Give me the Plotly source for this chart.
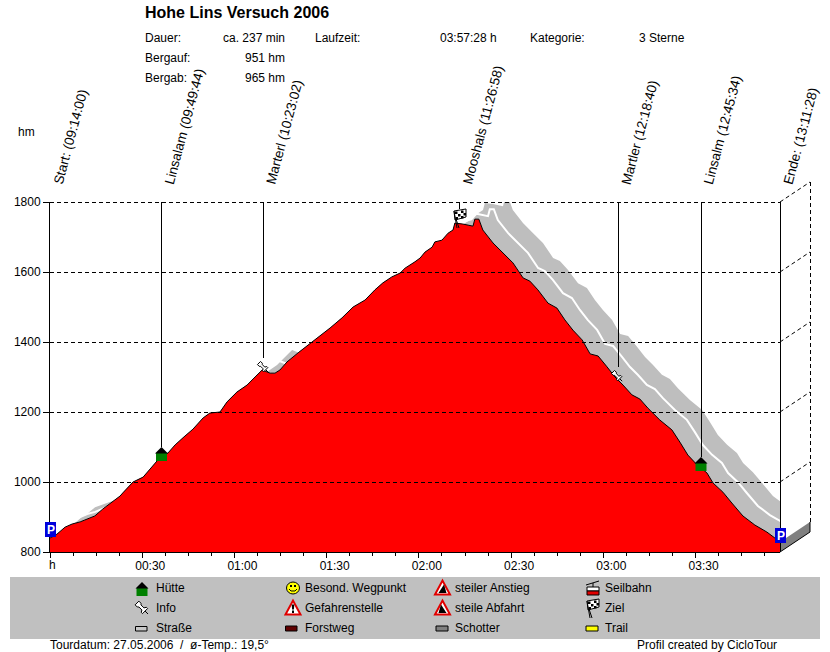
import math
import plotly.graph_objects as go

W, H = 830, 652
FONT = "Liberation Sans"

# Hoehenprofil: Zeit in Minuten, Hoehe in hm
minutes = [0, 2.0, 4.9, 7.2, 9.8, 12.4, 14.6, 17.2, 20.2, 22.8, 23.7, 27.0, 30.3, 33.2, 35.1, 38.4, 40.7,
           43.6, 46.5, 49.8, 52.0, 55.3, 57.6, 60.8, 64.1, 66.7, 69.0, 71.6, 73.2, 74.8, 77.1, 80.7, 86.2,
           91.1, 95.0, 98.6, 102.5, 105.7, 108.3, 111.2, 113.9, 115.5, 118.7, 120.4, 122.0, 124.3, 125.2,
           127.5, 129.5, 131.1, 131.7, 134.3, 137.6, 138.2, 139.5, 140.8, 144.1, 147.0, 150.6, 153.9, 156.1,
           158.7, 162.0, 164.9, 167.5, 170.1, 173.1, 175.7, 178.3, 181.2, 183.8, 186.4, 189.3, 191.9, 194.5,
           198.4, 202.3, 204.9, 207.5, 210.5, 213.7, 215.7, 218.9, 221.8, 225.4, 229.3, 233.2, 235.8, 237.47]
elevation = [840, 849, 871, 880, 886, 894, 903, 923, 943, 960, 969, 1000, 1014, 1043, 1063, 1083, 1106,
             1129, 1151, 1183, 1197, 1200, 1229, 1257, 1277, 1300, 1320, 1311, 1311, 1320, 1343, 1369, 1406,
             1440, 1469, 1500, 1520, 1549, 1569, 1586, 1597, 1611, 1629, 1640, 1657, 1671, 1686,
             1691, 1711, 1720, 1740, 1737, 1731, 1751, 1751, 1720, 1683, 1657, 1626, 1583, 1574,
             1549, 1511, 1497, 1463, 1434, 1406, 1366, 1360, 1329, 1300, 1277, 1249, 1237, 1211,
             1177, 1149, 1114, 1077, 1049, 1026, 997, 971, 940, 903, 877, 857, 840, 826]

# Wegpunkte
waypoint_names = ["Start: (09:14:00)", "Linsalam (09:49:44)", "Marterl (10:23:02)", "Mooshals (11:26:58)",
                  "Martler (12:18:40)", "Linsalm (12:45:34)", "Ende: (13:11:28)"]
waypoint_min = [0, 36.1, 69.03, 132.97, 184.67, 211.57, 237.47]
waypoint_end_y = [552, 447, 358, 209, 367, 457, 552]

y_ticks = [800, 1000, 1200, 1400, 1600, 1800]
x_ticks = [0, 30, 60, 90, 120, 150, 180, 210]
x_labels = ["", "00:30", "01:00", "01:30", "02:00", "02:30", "03:00", "03:30"]

header = [("Dauer:", 145, 38, "left"), ("ca. 237 min", 285, 38, "right"), ("Laufzeit:", 315, 38, "left"),
          ("03:57:28 h", 497, 38, "right"), ("Kategorie:", 530, 38, "left"), ("3 Sterne", 639, 38, "left"),
          ("Bergauf:", 145, 58, "left"), ("951 hm", 285, 58, "right"),
          ("Bergab:", 145, 78, "left"), ("965 hm", 285, 78, "right")]
legend_labels = [("Hütte", 156, 588), ("Info", 156, 608), ("Straße", 156, 628),
                 ("Besond. Wegpunkt", 305, 588), ("Gefahrenstelle", 305, 608), ("Forstweg", 305, 628),
                 ("steiler Anstieg", 455, 588), ("steile Abfahrt", 455, 608), ("Schotter", 455, 628),
                 ("Seilbahn", 605, 588), ("Ziel", 605, 608), ("Trail", 605, 628)]

T_END = 237.47
LEFT, RIGHT, TOP, BOTTOM = 50, 780, 202, 552
DEPTH_X, DEPTH_Y = 30, 20
depth_min = DEPTH_X * T_END / (RIGHT - LEFT)
depth_hm = DEPTH_Y * 1000 / (BOTTOM - TOP)


def px(x):
    return x / W


def py(y):
    return 1 - y / H


def x_of(m):
    return LEFT + m * (RIGHT - LEFT) / T_END


def poly(points, fill=None, color="black", width=1, close=True):
    path = "M " + " L ".join(f"{px(a):.5f},{py(b):.5f}" for a, b in points) + (" Z" if close else "")
    return dict(type="path", path=path, xref="paper", yref="paper", layer="above",
                fillcolor=fill if fill else "rgba(0,0,0,0)",
                line=dict(color=color, width=width))


def seg(x0, y0, x1, y1, color="black", dash=None, width=1):
    return dict(type="line", xref="paper", yref="paper", layer="above", x0=px(x0), x1=px(x1), y0=py(y0), y1=py(y1),
                line=dict(color=color, width=width, dash=dash))


def box(x0, y0, x1, y1, fill, line=None):
    return dict(type="rect", xref="paper", yref="paper", layer="above", x0=px(x0), x1=px(x1), y0=py(y0), y1=py(y1),
                fillcolor=fill, line=dict(color=line if line else fill, width=1 if line else 0))


def house(cx, top):
    return [box(cx - 5.5, top + 6, cx + 5.5, top + 14, "#008000"),
            poly([(cx - 6.5, top + 6.5), (cx, top), (cx + 6.5, top + 6.5)], fill="black", width=0)]


def pin(x0, y0, s=1.0):
    # Stecknadel, schraeg von links oben nach rechts unten
    def r(a, b):
        c = math.sqrt(0.5)
        return (x0 + s * c * (a - b), y0 + s * c * (a + b))
    head = [r(0, -2.2), r(2.5, -2.2), r(3.5, -1.2), r(7, -1.2), r(8, -3), r(9.5, -3), r(9.5, 3), r(8, 3),
            r(7, 1.2), r(3.5, 1.2), r(2.5, 2.2), r(0, 2.2)]
    return [seg(*r(9.5, 0), *r(13, 0)), poly(head, fill="white")]


def flag(x, y):
    out = [poly([(x + 1, y + 1), (x + 13, y - 1), (x + 13, y + 7), (x + 2, y + 10)], fill="white"),
           seg(x + 1, y + 1, x + 4, y + 18), seg(x + 3, y + 9, x + 6, y + 18)]
    for a, b in [(2, 1.5), (8, 0.5), (5, 4), (10.5, 3), (2.5, 7), (8, 6)]:
        out.append(box(x + a, y + b, x + a + 2.5, y + b + 2.5, "black"))
    return out


def warn(x, y, inner):
    out = [poly([(x, y + 14), (x + 7.5, y), (x + 15, y + 14)], fill="white", color="#E00000", width=2)]
    if inner == "up":
        out.append(poly([(x + 3.5, y + 12.5), (x + 9, y + 4), (x + 11.5, y + 12.5)], fill="black", width=0))
    elif inner == "down":
        out.append(poly([(x + 3.5, y + 12.5), (x + 6, y + 4), (x + 11.5, y + 12.5)], fill="black", width=0))
    else:
        out.append(poly([(x + 6.2, y + 4), (x + 8.8, y + 4), (x + 8.4, y + 9), (x + 6.6, y + 9)], fill="black", width=0))
        out.append(box(x + 6.5, y + 10, x + 8.5, y + 12.5, "black"))
    return out


def smiley(cx, cy):
    circle = dict(type="circle", xref="paper", yref="paper", layer="above", x0=px(cx - 6.5), x1=px(cx + 6.5),
                  y0=py(cy - 6), y1=py(cy + 6), fillcolor="#FFFF00", line=dict(color="black", width=1))
    return [circle, box(cx - 3, cy - 3, cx - 1, cy - 1, "black"), box(cx + 1, cy - 3, cx + 3, cy - 1, "black"),
            poly([(cx - 4, cy + 1), (cx - 2, cy + 3), (cx + 2, cy + 3), (cx + 4, cy + 1)], close=False)]


def gondola(x, y):
    return [seg(x, y + 4, x + 13, y), seg(x + 7, y + 2, x + 7, y + 6),
            box(x + 1, y + 6, x + 13, y + 10, "white", "black"), box(x + 1, y + 10, x + 13, y + 14, "#E00000", "black")]


def p_sign(x, y):
    return box(x, y, x + 11, y + 15, "#0000DC")


# Schattenband hinter dem Profil
band_x = minutes + [m + depth_min for m in reversed(minutes)]
band_y = elevation + [e + depth_hm for e in reversed(elevation)]

fig = go.Figure()
fig.add_trace(go.Scatter(x=band_x, y=band_y, mode="lines", fill="toself", fillcolor="#BEBEBE",
                         line=dict(width=0, color="#BEBEBE"), cliponaxis=False, hoverinfo="skip"))
fig.add_trace(go.Scatter(x=[m + depth_min / 2 for m in minutes], y=[e + depth_hm / 2 for e in elevation],
                         mode="lines", line=dict(color="white", width=2), cliponaxis=False, hoverinfo="skip"))
fig.add_trace(go.Scatter(x=minutes + [T_END, 0], y=elevation + [800, 800], mode="lines", fill="toself",
                         fillcolor="#FF0000", line=dict(width=0, color="#FF0000"), cliponaxis=False, hoverinfo="skip"))
fig.add_trace(go.Scatter(x=minutes, y=elevation, mode="lines", line=dict(color="black", width=1),
                         cliponaxis=False, hoverinfo="skip"))

shapes = []
# Seitenwand unten rechts
shapes.append(poly([(RIGHT, BOTTOM), (RIGHT + DEPTH_X, BOTTOM - DEPTH_Y), (RIGHT + DEPTH_X, BOTTOM - DEPTH_Y - 10),
                    (RIGHT, BOTTOM - 10)], fill="#808080", width=0))
shapes.append(seg(RIGHT, BOTTOM, RIGHT + DEPTH_X, BOTTOM - DEPTH_Y))
shapes.append(seg(RIGHT + DEPTH_X, BOTTOM - DEPTH_Y, RIGHT + DEPTH_X, BOTTOM - DEPTH_Y - 10))

# Gitter
dash = "4px,3px"
for t in y_ticks[1:]:
    yy = BOTTOM - (t - 800) * (BOTTOM - TOP) / 1000
    shapes.append(seg(LEFT, yy + 0.5, RIGHT, yy + 0.5, dash=dash))
    shapes.append(seg(RIGHT, yy, RIGHT + DEPTH_X, yy - DEPTH_Y, dash=dash))
shapes.append(seg(RIGHT + DEPTH_X + 0.5, TOP - DEPTH_Y, RIGHT + DEPTH_X + 0.5, BOTTOM - DEPTH_Y - 10, dash=dash))

# Wegpunkt-Linien (Start liegt auf der y-Achse)
for m, end in zip(waypoint_min[1:], waypoint_end_y[1:]):
    xl = math.ceil(x_of(m) - 0.01) + 0.5
    shapes.append(seg(xl, TOP, xl, end))

# Symbole im Profil
shapes += house(161.5, 447) + house(701, 457)
shapes += pin(259, 363) + pin(613, 372)
shapes += flag(453, 210)
shapes += [p_sign(45, 522), p_sign(775, 528)]

# Legende
shapes.insert(0, box(10, 577, 820, 639, "#C0C0C0"))
shapes += house(142, 582) + pin(137, 603, 1.2) + [box(135.5, 626.5, 147, 631, "#C8C8C8", "black")]
shapes += smiley(293, 588) + warn(285.5, 600.5, "ex") + [box(285.5, 626, 297, 631, "#600000", "black")]
shapes += warn(435, 580.5, "up") + warn(435, 600.5, "down") + [box(436, 626, 448, 631, "#808080", "black")]
shapes += gondola(586, 581) + flag(586, 600) + [box(586, 626, 598, 631, "#FFFF00", "black")]

annotations = []


def label(text, x, y, anchor="left", size=12, bold=False, color="black", angle=0, yanchor="middle"):
    annotations.append(dict(text=f"<b>{text}</b>" if bold else text, x=px(x), y=py(y), xref="paper", yref="paper",
                            xanchor=anchor, yanchor=yanchor, showarrow=False, textangle=angle,
                            font=dict(family=FONT, size=size, color=color), borderpad=0, borderwidth=0))


label("Hohe Lins Versuch 2006", 145, 13, size=16, bold=True)
for text, x, y, anchor in header:
    label(text, x, y, anchor)
label("hm", 18, 132)
label("h", 49, 565)
for name, m in zip(waypoint_names, waypoint_min):
    label(name, x_of(m) + 1, 186, size=13.5, angle=-75, yanchor="bottom")
for text, x, y in legend_labels:
    label(text, x, y)
label("P", 50.5, 530, anchor="center", bold=True, color="white")
label("P", 780.5, 536, anchor="center", bold=True, color="white")
label("Tourdatum: 27.05.2006 \u00a0/\u00a0 ø-Temp.: 19,5°", 50, 645)
label("Profil created by CicloTour", 637, 645)

fig.update_layout(
    width=W, height=H, margin=dict(l=0, r=0, t=0, b=0), showlegend=False,
    paper_bgcolor="white", plot_bgcolor="white", font=dict(family=FONT, size=12, color="black"),
    shapes=shapes, annotations=annotations,
)
fig.update_xaxes(domain=[px(LEFT), px(RIGHT)], range=[0, T_END], tickvals=x_ticks, ticktext=x_labels, automargin=False,
                 showgrid=False, zeroline=False, showline=True, linecolor="black", linewidth=1,
                 ticks="outside", ticklen=5, tickcolor="black", ticklabelshift=8, ticklabelstandoff=-2,
                 minor=dict(dtick=7.5, tick0=0, ticks="outside", ticklen=3, tickcolor="black", showgrid=False))
fig.update_yaxes(domain=[py(BOTTOM), py(TOP)], range=[800, 1800], tickvals=y_ticks, automargin=False,
                 showgrid=False, zeroline=False, showline=True, linecolor="black", linewidth=1,
                 ticks="outside", ticklen=6, tickcolor="black")

fig.write_html("out.html", config={"displayModeBar": False},
               post_script="document.body.style.margin = '0';")
